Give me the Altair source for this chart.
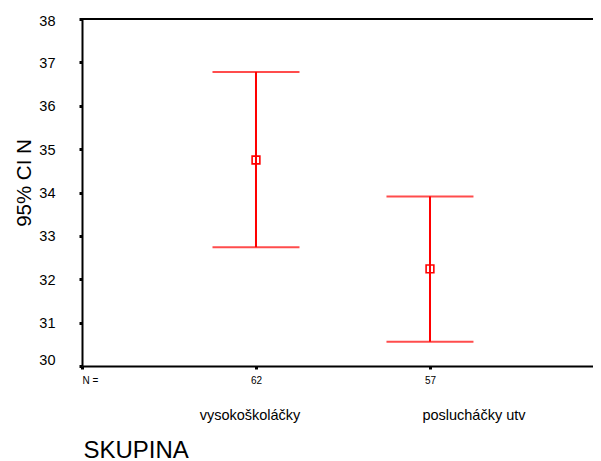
import altair as alt
import pandas as pd

groups = ["vysokoškoláčky", "poslucháčky utv"]
group_pos = [1, 2]
counts = [62, 57]
means = [34.75, 32.24]
ci_low = [32.74, 30.56]
ci_high = [36.78, 33.91]

df = pd.DataFrame({
    "group": groups, "pos": group_pos, "n": counts,
    "mean": means, "lo": ci_low, "hi": ci_high,
})

RED = "#ff0000"
FONT = "Liberation Sans"
W, H = 511, 347

xscale = alt.Scale(domain=[0, 2.937], nice=False, zero=False)
yscale = alt.Scale(domain=[30, 38], nice=False, zero=False)

label_expr = "datum.value == 0 ? 'N =' : (datum.value == 1 ? '%d' : '%d')" % (counts[0], counts[1])

xaxis = alt.Axis(
    values=[0, 1, 2], labelExpr=label_expr, grid=False,
    domainColor="black", domainWidth=2, tickColor="black", tickWidth=3, tickSize=3,
    labelFont=FONT, labelFontSize=10, labelColor="black", labelPadding=6,
    title="SKUPINA", titleFont=FONT, titleFontSize=24, titleFontWeight="normal",
    titleColor="black", titleAnchor="start", titleAlign="left",
    titleBaseline="alphabetic", titleX=1, titleY=91,
)
yaxis = alt.Axis(
    values=list(range(30, 39)), grid=False,
    domainColor="black", domainWidth=2, tickColor="black", tickWidth=3, tickSize=3,
    labelFont=FONT, labelFontSize=14.5, labelColor="black", labelPadding=24,
    labelBaseline="middle",
    labelOffset={"condition": [{"test": "datum.value === 30", "value": -6},
                               {"test": "datum.value === 38", "value": 2}],
                 "value": 1},
    title="95% CI N", titleFont=FONT, titleFontSize=20.5,
    titleFontWeight="normal", titleColor="black", titleAngle=270,
    titleAlign="center", titleBaseline="alphabetic", titleX=-52, titleY=163.5,
)

base = alt.Chart(df)

# top frame line of the plot area
top_line = base.mark_rule(color="black", strokeWidth=2).encode(
    y=alt.datum(38), x=alt.value(0), x2=alt.value(W)
)

vline = base.mark_rule(color=RED, strokeWidth=2).encode(
    x=alt.X("pos:Q", scale=xscale, axis=xaxis),
    y=alt.Y("lo:Q", scale=yscale, axis=yaxis),
    y2="hi:Q",
)
cap_hi = base.mark_tick(color=RED, orient="horizontal", size=87, thickness=2).encode(
    x="pos:Q", y="hi:Q"
)
cap_lo = base.mark_tick(color=RED, orient="horizontal", size=87, thickness=2).encode(
    x="pos:Q", y="lo:Q"
)
mean_pt = base.mark_square(color=RED, filled=False, size=60, strokeWidth=1.6, opacity=1).encode(
    x="pos:Q", y="mean:Q"
)

offsets = [-6, 44]
cat_labels = [
    base.transform_filter(alt.datum.group == g).mark_text(
        font=FONT, fontSize=14.5, color="black", align="center",
        baseline="alphabetic", dx=off,
    ).encode(x="pos:Q", y=alt.value(H + 54), text="group:N")
    for g, off in zip(groups, offsets)
]

chart = alt.layer(vline, top_line, cap_hi, cap_lo, mean_pt, *cat_labels).properties(
    width=W, height=H,
    autosize=alt.AutoSizeParams(type="none"),
    padding={"left": 74, "top": 11, "right": 0, "bottom": 94},
    background="white",
).configure_view(stroke=None)

chart.save("out.html", embed_options={"renderer": "svg", "actions": False})
